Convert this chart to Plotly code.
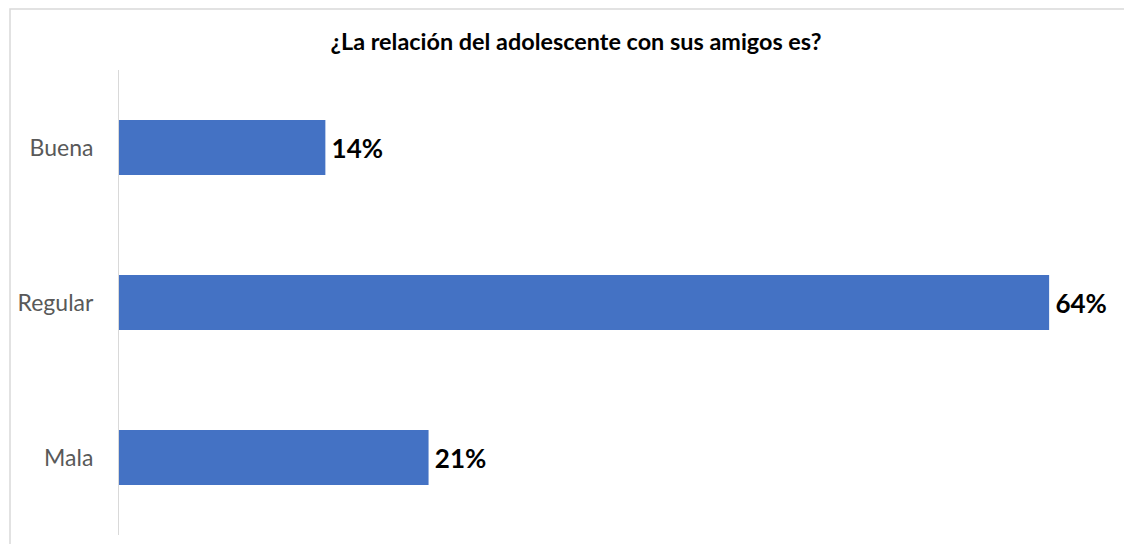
import plotly.graph_objects as go

categories = ["Buena", "Regular", "Mala"]
values = [14.2, 64.0, 21.3]
labels = ["14%", "64%", "21%"]

fig = go.Figure(go.Bar(
    x=values,
    y=categories,
    orientation="h",
    marker=dict(color="#4472C4", line=dict(width=0)),
    text=labels,
    texttemplate="\u2009%{text}",
    textposition="outside",
    textfont=dict(family="Lato", size=26, color="#000000", weight="bold"),
    cliponaxis=False,
    hoverinfo="skip",
))

fig.update_layout(
    width=1124,
    height=536,
    margin=dict(l=111, r=32, t=62, b=9),
    paper_bgcolor="#FFFFFF",
    plot_bgcolor="#FFFFFF",
    bargap=0.645,
    showlegend=False,
    title=dict(
        text="<b>¿La relación del adolescente con sus amigos es?</b>",
        x=568/1124, xanchor="center", xref="container",
        y=1 - 34/536, yanchor="middle", yref="container",
        font=dict(family="Lato", size=23.4, color="#000000"),
    ),
    xaxis=dict(range=[0, 67.5], visible=False, showgrid=False, zeroline=False),
    yaxis=dict(
        categoryorder="array",
        categoryarray=categories[::-1],
        showline=True, linecolor="#D9D9D9", linewidth=1,
        showgrid=False, zeroline=False,
        ticks="", ticklen=0,
        ticklabelstandoff=20,
        tickfont=dict(family="Lato", size=23, color="#595959"),
    ),
    shapes=[dict(
        type="rect", xref="paper", yref="paper",
        x0=-109/981, x1=(1140-111)/981,
        y0=-20/465, y1=(527-1)/465,
        line=dict(color="#D9D9D9", width=1.5),
        fillcolor="rgba(0,0,0,0)",
        layer="below",
    )],
)

fig.write_html("out.html")
